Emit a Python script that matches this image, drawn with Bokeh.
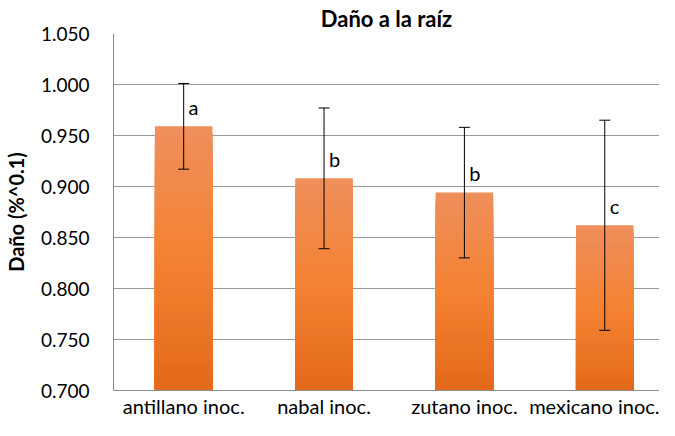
from bokeh.plotting import figure
from bokeh.models import Range1d, FixedTicker, NumeralTickFormatter, Whisker, TeeHead, ColumnDataSource
from bokeh.embed import file_html
from bokeh.resources import INLINE
from bokeh.core.properties import value

# ---- data ----
categories = ["antillano inoc.", "nabal inoc.", "zutano inoc.", "mexicano inoc."]
means = [0.959, 0.908, 0.894, 0.862]
errors = [0.042, 0.069, 0.064, 0.103]
letters = ["a", "b", "b", "c"]
y_ticks = [0.700, 0.750, 0.800, 0.850, 0.900, 0.950, 1.000, 1.050]
y_min, y_max = 0.700, 1.050

FONT = "Lato"
xs = list(range(len(categories)))

p = figure(width=659, height=420, output_backend="svg", toolbar_location=None,
           x_range=Range1d(-0.5, 3.39), y_range=Range1d(y_min, y_max),
           min_border_left=100, min_border_right=0, min_border_top=31, min_border_bottom=0)
p.background_fill_color = "white"
p.border_fill_color = "white"
p.outline_line_color = None

# title
p.title.text = "Daño a la raíz"
p.title.align = "center"
p.title.text_font = FONT
p.title.text_font_size = "22px"
p.title.text_font_style = "bold"
p.title.text_color = "black"
p.title.standoff = 4
p.title.offset = -6

# gradient bars: stacked overlapping slices (drawn tallest first)
n = 40
stops = [(0.0, (227, 105, 26)), (0.5, (244, 130, 50)), (1.0, (239, 143, 92))]

def grad(t):
    for (t0, c0), (t1, c1) in zip(stops[:-1], stops[1:]):
        if t <= t1:
            f = (t - t0) / (t1 - t0)
            c = [round(a + (b - a) * f) for a, b in zip(c0, c1)]
            return "#%02x%02x%02x" % tuple(c)
    return "#%02x%02x%02x" % stops[-1][1]

half_w = 0.205
L, R, B, T, C = [], [], [], [], []
for x, m in zip(xs, means):
    for k in range(n - 1, -1, -1):
        L.append(x - half_w)
        R.append(x + half_w)
        B.append(y_min)
        T.append(y_min + (m - y_min) * (k + 1) / n)
        C.append(grad((k + 0.5) / n))
p.quad(left=L, right=R, bottom=B, top=T, fill_color=C, line_color=None)

# error bars
esrc = ColumnDataSource(dict(x=xs,
                             upper=[m + e for m, e in zip(means, errors)],
                             lower=[m - e for m, e in zip(means, errors)]))
wh = Whisker(source=esrc, base="x", upper="upper", lower="lower",
             line_color="black", line_width=1, level="annotation",
             upper_head=TeeHead(size=11, line_color="black", line_width=1),
             lower_head=TeeHead(size=11, line_color="black", line_width=1))
p.add_layout(wh)

# significance letters
p.text(x=[x + 0.035 for x in xs], y=[m + 0.019 for m in means], text=letters,
       text_font=value(FONT), text_font_size="20px", text_color="black",
       text_align="left", text_baseline="middle")

# axes
p.yaxis.ticker = FixedTicker(ticks=y_ticks)
p.yaxis.formatter = NumeralTickFormatter(format="0.000")
p.yaxis.major_tick_line_color = None
p.yaxis.minor_tick_line_color = None
p.yaxis.major_label_standoff = 18
p.yaxis.major_label_text_font = FONT
p.yaxis.major_label_text_font_size = "19px"
p.yaxis.major_label_text_color = "black"
p.yaxis.axis_line_color = "#8c8c8c"
p.yaxis.axis_label = "Daño (%^0.1)"
p.yaxis.axis_label_text_font = FONT
p.yaxis.axis_label_text_font_size = "20px"
p.yaxis.axis_label_text_font_style = "bold"
p.yaxis.axis_label_text_color = "black"
p.yaxis.axis_label_standoff = 10

p.xaxis.ticker = FixedTicker(ticks=xs)
p.xaxis.major_label_overrides = {x: c for x, c in zip(xs, categories)}
p.xaxis.major_tick_line_color = None
p.xaxis.minor_tick_line_color = None
p.xaxis.major_tick_out = 0
p.xaxis.major_tick_in = 0
p.xaxis.major_label_standoff = 3
p.xaxis.axis_label = None
p.xaxis.axis_label_standoff = 0
p.xaxis.major_label_text_font = FONT
p.xaxis.major_label_text_font_size = "20px"
p.xaxis.major_label_text_color = "black"
p.xaxis.axis_line_color = "#8c8c8c"

p.xgrid.grid_line_color = None
p.ygrid.ticker = FixedTicker(ticks=y_ticks)
p.ygrid.grid_line_color = "#9a9a9a"
p.ygrid.grid_line_width = 1

open("out.html", "w").write(file_html(p, INLINE))
